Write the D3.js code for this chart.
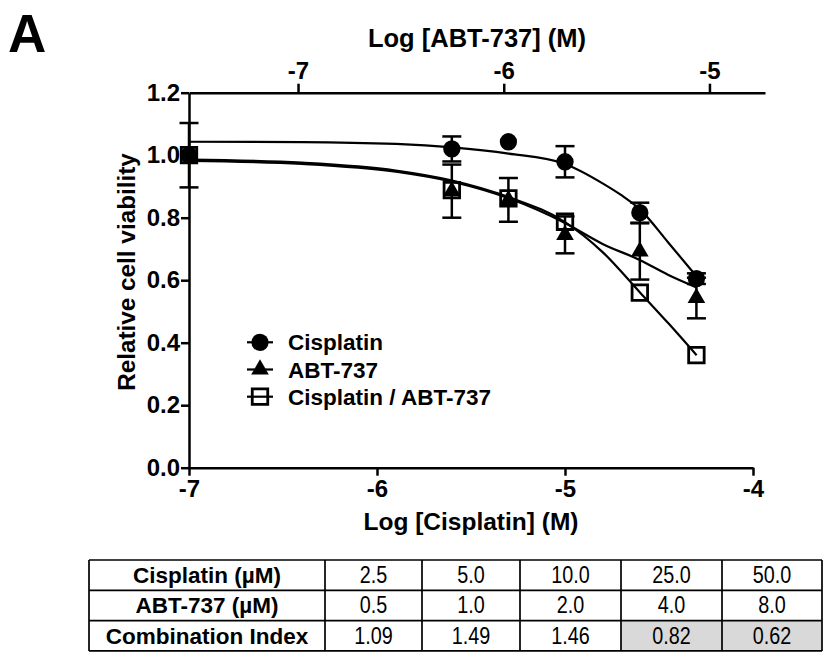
<!DOCTYPE html>
<html>
<head>
<meta charset="utf-8">
<script src="https://cdn.jsdelivr.net/npm/d3@7"></script>
<style>
  body { margin: 0; background: #fff; }
  svg { display: block; }
  text { font-family: "Liberation Sans", Arial, sans-serif; fill: #000; }
</style>
</head>
<body>
<svg id="chart" width="823" height="655"></svg>
<script>
// Log dose positions on the cisplatin axis (control plotted at -7)
const logCisplatin = [-7, -5.602, -5.301, -5.0, -4.602, -4.301];

// Relative viability, mean and error
const cisplatinMean = [1.0, 1.02, 1.043, 0.979, 0.816, 0.605];
const cisplatinErr  = [0.0, 0.04, 0.0, 0.05, 0.032, 0.017];
const abtMean       = [1.0, 0.885, 0.857, 0.745, 0.692, 0.543];
const abtErr        = [0.103, 0.085, 0.07, 0.059, 0.09, 0.065];
const comboMean     = [1.0, 0.888, 0.862, 0.787, 0.56, 0.36];
const comboErr      = [0.0, 0.0, 0.0, 0.0, 0.0, 0.0];

// Fitted dose-response curves, [log dose, viability]
const cisplatinFit = [[-7, 1.043], [-6.4, 1.042], [-5.9, 1.036], [-5.6, 1.025], [-5.3, 1.005],
                      [-5.0, 0.972], [-4.8, 0.91], [-4.7, 0.872], [-4.6, 0.826], [-4.45, 0.72], [-4.3, 0.612]];
const abtFit       = [[-7, 0.982], [-6.4, 0.972], [-5.9, 0.947], [-5.6, 0.915], [-5.3, 0.862],
                      [-5.0, 0.783], [-4.8, 0.716], [-4.6, 0.664], [-4.45, 0.617], [-4.3, 0.577]];
const comboFit     = [[-7, 0.986], [-6.4, 0.976], [-5.9, 0.951], [-5.6, 0.919], [-5.3, 0.866],
                      [-5.0, 0.786], [-4.8, 0.69], [-4.6, 0.56], [-4.45, 0.462], [-4.3, 0.36]];

// Axis ticks
const bottomTicks = [-7, -6, -5, -4];
const topTicks = [-7, -6, -5];
const yTicks = [0, 0.2, 0.4, 0.6, 0.8, 1.0, 1.2];

// Legend
const seriesNames = ["Cisplatin", "ABT-737", "Cisplatin / ABT-737"];

// Table
const rowLabels = ["Cisplatin (\u00b5M)", "ABT-737 (\u00b5M)", "Combination Index"];
const cisplatinDoses = ["2.5", "5.0", "10.0", "25.0", "50.0"];
const abtDoses = ["0.5", "1.0", "2.0", "4.0", "8.0"];
const combinationIndex = ["1.09", "1.49", "1.46", "0.82", "0.62"];

const svg = d3.select("#chart");

const x = d3.scaleLinear().domain([-7, -4]).range([189, 753]);
const xTop = d3.scaleLinear().domain([-7.53, -4.73]).range([189, 765]);
const y = d3.scaleLinear().domain([0, 1.2]).range([467.7, 92.7]);

const axisStroke = 2.5;
function styleAxis(g, fontSize) {
  g.select(".domain").attr("stroke", "#000").attr("stroke-width", axisStroke);
  g.selectAll(".tick line").attr("stroke", "#000").attr("stroke-width", axisStroke);
  g.selectAll(".tick text").attr("fill", "#000")
    .style("font-family", '"Liberation Sans", Arial, sans-serif')
    .style("font-weight", "bold").style("font-size", fontSize + "px");
}

// Bottom axis
svg.append("g").attr("transform", `translate(0,${y(0)})`)
  .call(d3.axisBottom(x).tickValues(bottomTicks).tickSize(8).tickSizeOuter(0).tickPadding(4)
    .tickFormat(d => String(d)))
  .call(g => styleAxis(g, 24));

// Top axis
svg.append("g").attr("transform", `translate(0,${y(1.2)})`)
  .call(d3.axisTop(xTop).tickValues(topTicks).tickSize(9).tickSizeOuter(0).tickPadding(5)
    .tickFormat(d => String(d)))
  .call(g => styleAxis(g, 24));

// Left axis
svg.append("g").attr("transform", `translate(${x(-7)},0)`)
  .call(d3.axisLeft(y).tickValues(yTicks).tickSize(8).tickSizeOuter(0).tickPadding(1)
    .tickFormat(d3.format(".1f")))
  .call(g => styleAxis(g, 24));

// Axis titles
svg.append("text").attr("x", 471).attr("y", 530).attr("text-anchor", "middle")
  .style("font-weight", "bold").style("font-size", "24.5px").text("Log [Cisplatin] (M)");
svg.append("text").attr("x", 477).attr("y", 47).attr("text-anchor", "middle")
  .style("font-weight", "bold").style("font-size", "25.5px").text("Log [ABT-737] (M)");
svg.append("text").attr("transform", "translate(135,272) rotate(-90)").attr("text-anchor", "middle")
  .style("font-weight", "bold").style("font-size", "24.3px").text("Relative cell viability");

// Panel letter
svg.append("text").attr("x", 8).attr("y", 52)
  .style("font-weight", "bold").style("font-size", "53px").text("A");

// Fitted curves
const line = d3.line().x(d => x(d[0])).y(d => y(d[1])).curve(d3.curveMonotoneX);
[cisplatinFit, abtFit, comboFit].forEach(pts => {
  svg.append("path").attr("d", line(pts)).attr("fill", "none")
    .attr("stroke", "#000").attr("stroke-width", 2.2);
});

// Error bars
const capHalf = 9.5;
function errorBars(means, errs) {
  const g = svg.append("g").attr("stroke", "#000").attr("stroke-width", 2.5);
  means.forEach((m, i) => {
    const e = errs[i];
    if (e <= 0) return;
    const cx = x(logCisplatin[i]);
    g.append("line").attr("x1", cx).attr("x2", cx).attr("y1", y(m + e)).attr("y2", y(m - e));
    g.append("line").attr("x1", cx - capHalf).attr("x2", cx + capHalf).attr("y1", y(m + e)).attr("y2", y(m + e));
    g.append("line").attr("x1", cx - capHalf).attr("x2", cx + capHalf).attr("y1", y(m - e)).attr("y2", y(m - e));
  });
}
errorBars(cisplatinMean, cisplatinErr);
errorBars(abtMean, abtErr);
errorBars(comboMean, comboErr);

// Markers
const circlePath = d3.symbol().type(d3.symbolCircle).size(235)();
const trianglePath = d3.symbol().type(d3.symbolTriangle).size(135)();
const squarePath = d3.symbol().type(d3.symbolSquare).size(240)();

function drawMarkers(means, path, filled) {
  svg.append("g").selectAll("path").data(means).join("path")
    .attr("d", path)
    .attr("transform", (d, i) => `translate(${x(logCisplatin[i])},${y(d)})`)
    .attr("fill", filled ? "#000" : "none")
    .attr("stroke", "#000").attr("stroke-width", filled ? 0 : 2.8);
}
drawMarkers(comboMean, squarePath, false);
drawMarkers(abtMean, trianglePath, true);
drawMarkers(cisplatinMean, circlePath, true);

// Legend
const legendPaths = [[circlePath, true], [trianglePath, true], [squarePath, false]];
const legend = svg.append("g");
seriesNames.forEach((name, i) => {
  const ly = 342.3 + i * 27.2;
  legend.append("line").attr("x1", 247).attr("x2", 273).attr("y1", ly).attr("y2", ly)
    .attr("stroke", "#000").attr("stroke-width", 2.2);
  legend.append("path").attr("d", legendPaths[i][0])
    .attr("transform", `translate(260,${ly})`)
    .attr("fill", legendPaths[i][1] ? "#000" : "none")
    .attr("stroke", "#000").attr("stroke-width", legendPaths[i][1] ? 0 : 2.8);
  legend.append("text").attr("x", 288).attr("y", ly + 8)
    .style("font-weight", "bold").style("font-size", "22.5px").text(name);
});

// Dose / combination index table
const colEdges = [89, 325, 422, 520, 621, 722, 822];
const rowTop = 560, rowH = 30.3;
const rows = [cisplatinDoses, abtDoses, combinationIndex];
const table = svg.append("g");
rows.forEach((vals, r) => {
  const ty = rowTop + r * rowH;
  table.append("text").attr("x", (colEdges[0] + colEdges[1]) / 2).attr("y", ty + rowH / 2 + 8)
    .attr("text-anchor", "middle").style("font-weight", "bold").style("font-size", "22.5px")
    .text(rowLabels[r]);
  vals.forEach((v, c) => {
    const x0 = colEdges[c + 1], x1 = colEdges[c + 2];
    if (r === 2 && +v < 1) {
      table.append("rect").attr("x", x0).attr("y", ty).attr("width", x1 - x0).attr("height", rowH)
        .attr("fill", "#d9d9d9");
    }
    table.append("text")
      .attr("transform", `translate(${(x0 + x1) / 2},${ty + rowH / 2 + 8}) scale(0.86,1)`)
      .attr("text-anchor", "middle").style("font-size", "23px").text(v);
  });
});
const gridG = table.append("g").attr("stroke", "#000").attr("stroke-width", 1.7);
colEdges.forEach(cx => gridG.append("line").attr("x1", cx).attr("x2", cx)
  .attr("y1", rowTop).attr("y2", rowTop + 3 * rowH));
d3.range(4).forEach(r => gridG.append("line").attr("x1", colEdges[0]).attr("x2", colEdges[colEdges.length - 1])
  .attr("y1", rowTop + r * rowH).attr("y2", rowTop + r * rowH));
</script>
</body>
</html>
